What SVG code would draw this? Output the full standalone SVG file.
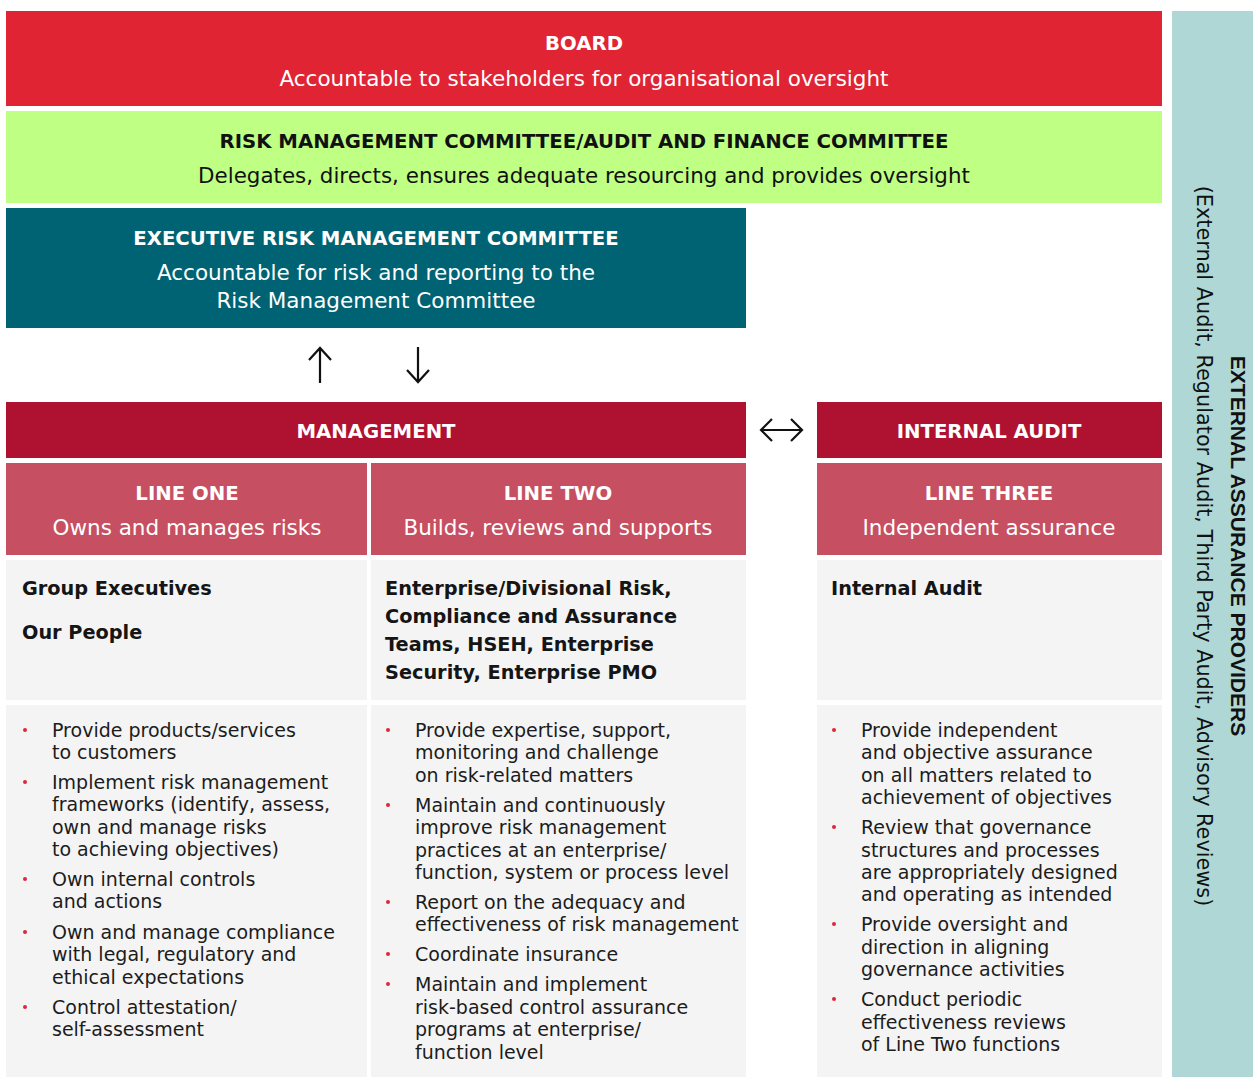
<svg xmlns="http://www.w3.org/2000/svg" width="1253" height="1077" viewBox="0 0 1253 1077">
<style>
text{font-family:"DejaVu Sans","Open Sans",sans-serif}
.h{font-weight:700;font-size:19.7px;fill:#fff;text-anchor:middle}
.s{font-size:21.5px;fill:#fff;text-anchor:middle}
.hk{font-weight:700;font-size:19.7px;fill:#111;text-anchor:middle}
.sk{font-size:21.4px;fill:#111;text-anchor:middle}
.b{font-weight:700;font-size:19.3px;fill:#151515}
.t{font-size:19px;fill:#1c1c1c}
.dot{fill:#E0243A}
.cell{fill:#F4F4F4}
.ln{fill:none;stroke:#111;stroke-width:2.2;stroke-linecap:butt;stroke-linejoin:miter}
</style>
<rect width="1253" height="1077" fill="#fff"/>
<g id="external">
<rect x="1172" y="11" width="81" height="1066" fill="#AED7D5"/>
<text transform="translate(1231,546) rotate(90)" style="font-family:'Liberation Sans',Arial,sans-serif;font-weight:700;font-size:21px;fill:#111;text-anchor:middle">EXTERNAL ASSURANCE PROVIDERS</text>
<text transform="translate(1197,546) rotate(90)" style="font-size:20.8px;fill:#111;text-anchor:middle">(External Audit, Regulator Audit, Third Party Audit, Advisory Reviews)</text>
</g>
<g id="board">
<rect x="6" y="11" width="1156" height="95" fill="#E02434"/>
<text class="h" x="584" y="50">BOARD</text>
<text class="s" x="584" y="86">Accountable to stakeholders for organisational oversight</text>
</g>
<g id="rmc">
<rect x="6" y="111" width="1156" height="92" fill="#BFFF84"/>
<text class="hk" x="584" y="148">RISK MANAGEMENT COMMITTEE/AUDIT AND FINANCE COMMITTEE</text>
<text class="sk" x="584" y="183">Delegates, directs, ensures adequate resourcing and provides oversight</text>
</g>
<g id="ermc">
<rect x="6" y="208" width="740" height="120" fill="#006373"/>
<text class="h" x="376" y="245">EXECUTIVE RISK MANAGEMENT COMMITTEE</text>
<text class="s" x="376" y="280">Accountable for risk and reporting to the</text>
<text class="s" x="376" y="308">Risk Management Committee</text>
</g>
<g id="management">
<rect x="6" y="402" width="740" height="56" fill="#AF1230"/>
<text class="h" x="376" y="438">MANAGEMENT</text>
</g>
<g id="internal-audit">
<rect x="817" y="402" width="345" height="56" fill="#AF1230"/>
<text class="h" x="989" y="438">INTERNAL AUDIT</text>
</g>
<g id="line-one">
<rect x="6" y="463" width="361" height="92" fill="#C64F61"/>
<text class="h" x="187" y="500">LINE ONE</text>
<text class="s" x="187" y="535">Owns and manages risks</text>
</g>
<g id="line-two">
<rect x="371" y="463" width="375" height="92" fill="#C64F61"/>
<text class="h" x="558" y="500">LINE TWO</text>
<text class="s" x="558" y="535">Builds, reviews and supports</text>
</g>
<g id="line-three">
<rect x="817" y="463" width="345" height="92" fill="#C64F61"/>
<text class="h" x="989" y="500">LINE THREE</text>
<text class="s" x="989" y="535">Independent assurance</text>
</g>
<g id="line-one-who">
<rect class="cell" x="6" y="560" width="361" height="140"/>
<text class="b" x="22" y="595">Group Executives</text>
<text class="b" x="22" y="639">Our People</text>
</g>
<g id="line-two-who">
<rect class="cell" x="371" y="560" width="375" height="140"/>
<text class="b" x="385" y="595">Enterprise/Divisional Risk,</text>
<text class="b" x="385" y="623">Compliance and Assurance</text>
<text class="b" x="385" y="651">Teams, HSEH, Enterprise</text>
<text class="b" x="385" y="679">Security, Enterprise PMO</text>
</g>
<g id="line-three-who">
<rect class="cell" x="817" y="560" width="345" height="140"/>
<text class="b" x="831" y="595">Internal Audit</text>
</g>
<g id="line-one-duties">
<rect class="cell" x="6" y="705" width="361" height="372"/>
<circle class="dot" cx="25" cy="730" r="2"/>
<circle class="dot" cx="25" cy="782" r="2"/>
<circle class="dot" cx="25" cy="879" r="2"/>
<circle class="dot" cx="25" cy="932" r="2"/>
<circle class="dot" cx="25" cy="1007" r="2"/>
<text class="t"><tspan x="52" y="737">Provide products/services</tspan><tspan x="52" y="759.4">to customers</tspan><tspan x="52" y="789">Implement risk management</tspan><tspan x="52" y="811.4">frameworks (identify, assess,</tspan><tspan x="52" y="833.8">own and manage risks</tspan><tspan x="52" y="856.2">to achieving objectives)</tspan><tspan x="52" y="886">Own internal controls</tspan><tspan x="52" y="908.4">and actions</tspan><tspan x="52" y="939">Own and manage compliance</tspan><tspan x="52" y="961.4">with legal, regulatory and</tspan><tspan x="52" y="983.8">ethical expectations</tspan><tspan x="52" y="1014">Control attestation/</tspan><tspan x="52" y="1036.4">self-assessment</tspan></text>
</g>
<g id="line-two-duties">
<rect class="cell" x="371" y="705" width="375" height="372"/>
<circle class="dot" cx="388" cy="730" r="2"/>
<circle class="dot" cx="388" cy="805" r="2"/>
<circle class="dot" cx="388" cy="902" r="2"/>
<circle class="dot" cx="388" cy="954" r="2"/>
<circle class="dot" cx="388" cy="984" r="2"/>
<text class="t"><tspan x="415" y="737">Provide expertise, support,</tspan><tspan x="415" y="759.4">monitoring and challenge</tspan><tspan x="415" y="781.8">on risk-related matters</tspan><tspan x="415" y="811.8">Maintain and continuously</tspan><tspan x="415" y="834.2">improve risk management</tspan><tspan x="415" y="856.6">practices at an enterprise/</tspan><tspan x="415" y="879">function, system or process level</tspan><tspan x="415" y="909">Report on the adequacy and</tspan><tspan x="415" y="931.4">effectiveness of risk management</tspan><tspan x="415" y="961.4">Coordinate insurance</tspan><tspan x="415" y="991.4">Maintain and implement</tspan><tspan x="415" y="1013.8">risk-based control assurance</tspan><tspan x="415" y="1036.2">programs at enterprise/</tspan><tspan x="415" y="1058.6">function level</tspan></text>
</g>
<g id="line-three-duties">
<rect class="cell" x="817" y="705" width="345" height="372"/>
<circle class="dot" cx="834" cy="730" r="2"/>
<circle class="dot" cx="834" cy="827" r="2"/>
<circle class="dot" cx="834" cy="924" r="2"/>
<circle class="dot" cx="834" cy="999" r="2"/>
<text class="t"><tspan x="861" y="737">Provide independent</tspan><tspan x="861" y="759.4">and objective assurance</tspan><tspan x="861" y="781.8">on all matters related to</tspan><tspan x="861" y="804.2">achievement of objectives</tspan><tspan x="861" y="834.2">Review that governance</tspan><tspan x="861" y="856.6">structures and processes</tspan><tspan x="861" y="879">are appropriately designed</tspan><tspan x="861" y="901.4">and operating as intended</tspan><tspan x="861" y="931.4">Provide oversight and</tspan><tspan x="861" y="953.8">direction in aligning</tspan><tspan x="861" y="976.2">governance activities</tspan><tspan x="861" y="1006.2">Conduct periodic</tspan><tspan x="861" y="1028.6">effectiveness reviews</tspan><tspan x="861" y="1051">of Line Two functions</tspan></text>
</g>
<g id="connectors">
<path class="ln" d="M320 383V348M309 360L320 348L331 360"/>
<path class="ln" d="M418 347V382M407 370L418 382L429 370"/>
<path class="ln" d="M761 430H802M772 419L761 430L772 441M791 419L802 430L791 441"/>
</g>
</svg>
